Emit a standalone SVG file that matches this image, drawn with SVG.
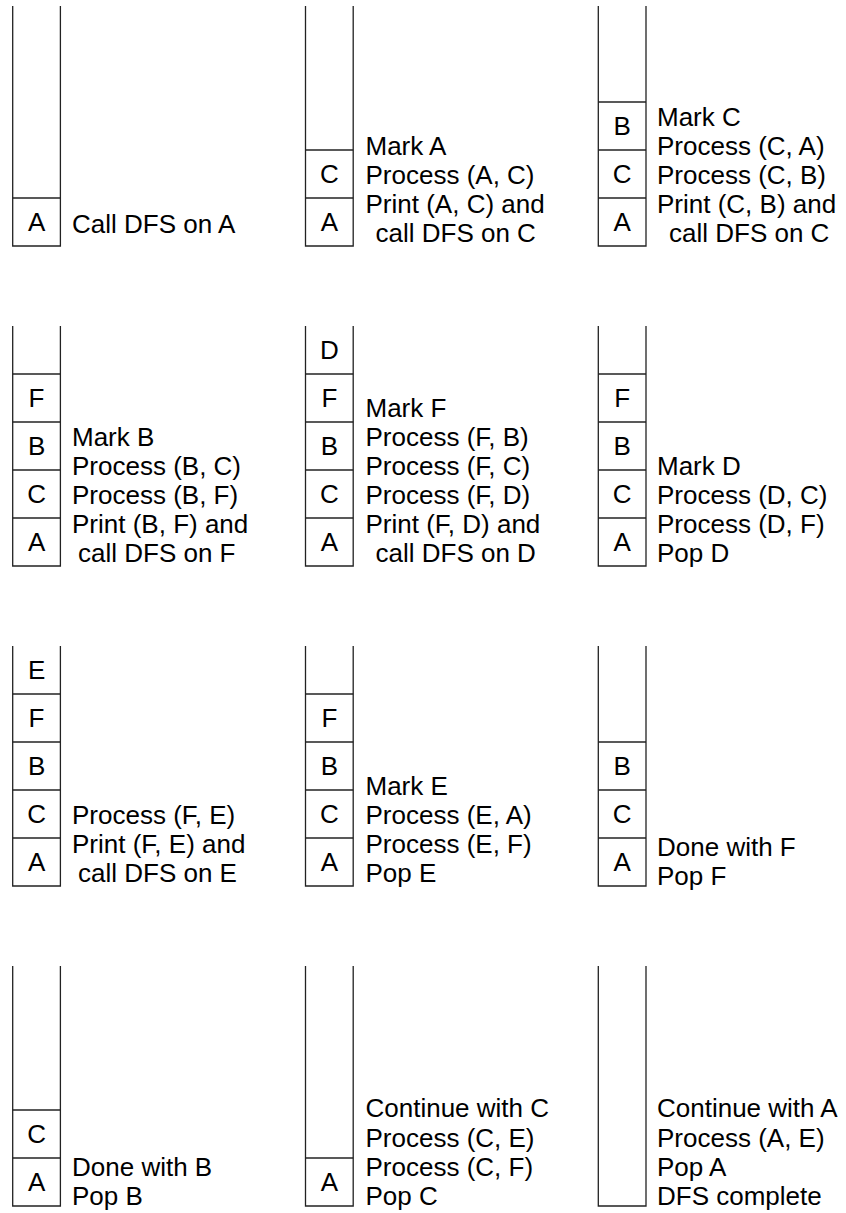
<svg xmlns="http://www.w3.org/2000/svg" width="846" height="1213" viewBox="0 0 846 1213">
<style>
.stk{fill:none;stroke:#222;stroke-width:1.3}
.div{stroke:#222;stroke-width:1.3}
.lbl{font-family:"Liberation Sans",Arial,sans-serif;font-size:26px;fill:#000;text-anchor:middle}
.txt{font-family:"Liberation Sans",Arial,sans-serif;font-size:26px;fill:#000}
</style>
<rect width="846" height="1213" fill="#fff"/>

<g id="step1">
<path class="stk" d="M12.7,6V246H60.4V6"/>
<line class="div" x1="12.7" y1="198" x2="60.4" y2="198"/>
<text class="lbl" x="36.55" y="231.3">A</text>
<text class="txt" x="72" y="233.3">Call DFS on A</text>
</g>

<g id="step2">
<path class="stk" d="M305.5,6V246H353.2V6"/>
<line class="div" x1="305.5" y1="198" x2="353.2" y2="198"/>
<line class="div" x1="305.5" y1="150" x2="353.2" y2="150"/>
<text class="lbl" x="329.35" y="231.3">A</text>
<text class="lbl" x="329.35" y="183.3">C</text>
<text class="txt" x="365.5" y="155">Mark A</text>
<text class="txt" x="365.5" y="184">Process (A, C)</text>
<text class="txt" x="365.5" y="213">Print (A, C) and</text>
<text class="txt" x="375.5" y="242">call DFS on C</text>
</g>

<g id="step3">
<path class="stk" d="M598.3,6V246H646V6"/>
<line class="div" x1="598.3" y1="198" x2="646" y2="198"/>
<line class="div" x1="598.3" y1="150" x2="646" y2="150"/>
<line class="div" x1="598.3" y1="102" x2="646" y2="102"/>
<text class="lbl" x="622.15" y="231.3">A</text>
<text class="lbl" x="622.15" y="183.3">C</text>
<text class="lbl" x="622.15" y="135.3">B</text>
<text class="txt" x="657" y="126">Mark C</text>
<text class="txt" x="657" y="155">Process (C, A)</text>
<text class="txt" x="657" y="184">Process (C, B)</text>
<text class="txt" x="657" y="213">Print (C, B) and</text>
<text class="txt" x="669" y="242">call DFS on C</text>
</g>

<g id="step4">
<path class="stk" d="M12.7,326V566H60.4V326"/>
<line class="div" x1="12.7" y1="518" x2="60.4" y2="518"/>
<line class="div" x1="12.7" y1="470" x2="60.4" y2="470"/>
<line class="div" x1="12.7" y1="422" x2="60.4" y2="422"/>
<line class="div" x1="12.7" y1="374" x2="60.4" y2="374"/>
<text class="lbl" x="36.55" y="551.3">A</text>
<text class="lbl" x="36.55" y="503.3">C</text>
<text class="lbl" x="36.55" y="455.3">B</text>
<text class="lbl" x="36.55" y="407.3">F</text>
<text class="txt" x="72" y="446">Mark B</text>
<text class="txt" x="72" y="475">Process (B, C)</text>
<text class="txt" x="72" y="504">Process (B, F)</text>
<text class="txt" x="72" y="533">Print (B, F) and</text>
<text class="txt" x="78" y="562">call DFS on F</text>
</g>

<g id="step5">
<path class="stk" d="M305.5,326V566H353.2V326"/>
<line class="div" x1="305.5" y1="518" x2="353.2" y2="518"/>
<line class="div" x1="305.5" y1="470" x2="353.2" y2="470"/>
<line class="div" x1="305.5" y1="422" x2="353.2" y2="422"/>
<line class="div" x1="305.5" y1="374" x2="353.2" y2="374"/>
<text class="lbl" x="329.35" y="551.3">A</text>
<text class="lbl" x="329.35" y="503.3">C</text>
<text class="lbl" x="329.35" y="455.3">B</text>
<text class="lbl" x="329.35" y="407.3">F</text>
<text class="lbl" x="329.35" y="359.3">D</text>
<text class="txt" x="365.5" y="416.5">Mark F</text>
<text class="txt" x="365.5" y="445.5">Process (F, B)</text>
<text class="txt" x="365.5" y="474.5">Process (F, C)</text>
<text class="txt" x="365.5" y="503.5">Process (F, D)</text>
<text class="txt" x="365.5" y="532.5">Print (F, D) and</text>
<text class="txt" x="375.5" y="561.5">call DFS on D</text>
</g>

<g id="step6">
<path class="stk" d="M598.3,326V566H646V326"/>
<line class="div" x1="598.3" y1="518" x2="646" y2="518"/>
<line class="div" x1="598.3" y1="470" x2="646" y2="470"/>
<line class="div" x1="598.3" y1="422" x2="646" y2="422"/>
<line class="div" x1="598.3" y1="374" x2="646" y2="374"/>
<text class="lbl" x="622.15" y="551.3">A</text>
<text class="lbl" x="622.15" y="503.3">C</text>
<text class="lbl" x="622.15" y="455.3">B</text>
<text class="lbl" x="622.15" y="407.3">F</text>
<text class="txt" x="657" y="475">Mark D</text>
<text class="txt" x="657" y="504">Process (D, C)</text>
<text class="txt" x="657" y="533">Process (D, F)</text>
<text class="txt" x="657" y="562">Pop D</text>
</g>

<g id="step7">
<path class="stk" d="M12.7,646V886H60.4V646"/>
<line class="div" x1="12.7" y1="838" x2="60.4" y2="838"/>
<line class="div" x1="12.7" y1="790" x2="60.4" y2="790"/>
<line class="div" x1="12.7" y1="742" x2="60.4" y2="742"/>
<line class="div" x1="12.7" y1="694" x2="60.4" y2="694"/>
<text class="lbl" x="36.55" y="871.3">A</text>
<text class="lbl" x="36.55" y="823.3">C</text>
<text class="lbl" x="36.55" y="775.3">B</text>
<text class="lbl" x="36.55" y="727.3">F</text>
<text class="lbl" x="36.55" y="679.3">E</text>
<text class="txt" x="72" y="824">Process (F, E)</text>
<text class="txt" x="72" y="853">Print (F, E) and</text>
<text class="txt" x="78" y="882">call DFS on E</text>
</g>

<g id="step8">
<path class="stk" d="M305.5,646V886H353.2V646"/>
<line class="div" x1="305.5" y1="838" x2="353.2" y2="838"/>
<line class="div" x1="305.5" y1="790" x2="353.2" y2="790"/>
<line class="div" x1="305.5" y1="742" x2="353.2" y2="742"/>
<line class="div" x1="305.5" y1="694" x2="353.2" y2="694"/>
<text class="lbl" x="329.35" y="871.3">A</text>
<text class="lbl" x="329.35" y="823.3">C</text>
<text class="lbl" x="329.35" y="775.3">B</text>
<text class="lbl" x="329.35" y="727.3">F</text>
<text class="txt" x="365.5" y="795">Mark E</text>
<text class="txt" x="365.5" y="824">Process (E, A)</text>
<text class="txt" x="365.5" y="853">Process (E, F)</text>
<text class="txt" x="365.5" y="882">Pop E</text>
</g>

<g id="step9">
<path class="stk" d="M598.3,646V886H646V646"/>
<line class="div" x1="598.3" y1="838" x2="646" y2="838"/>
<line class="div" x1="598.3" y1="790" x2="646" y2="790"/>
<line class="div" x1="598.3" y1="742" x2="646" y2="742"/>
<text class="lbl" x="622.15" y="871.3">A</text>
<text class="lbl" x="622.15" y="823.3">C</text>
<text class="lbl" x="622.15" y="775.3">B</text>
<text class="txt" x="657" y="855.8">Done with F</text>
<text class="txt" x="657" y="885.3">Pop F</text>
</g>

<g id="step10">
<path class="stk" d="M12.7,966V1206H60.4V966"/>
<line class="div" x1="12.7" y1="1158" x2="60.4" y2="1158"/>
<line class="div" x1="12.7" y1="1110" x2="60.4" y2="1110"/>
<text class="lbl" x="36.55" y="1191.3">A</text>
<text class="lbl" x="36.55" y="1143.3">C</text>
<text class="txt" x="72" y="1175.8">Done with B</text>
<text class="txt" x="72" y="1205.3">Pop B</text>
</g>

<g id="step11">
<path class="stk" d="M305.5,966V1206H353.2V966"/>
<line class="div" x1="305.5" y1="1158" x2="353.2" y2="1158"/>
<text class="lbl" x="329.35" y="1191.3">A</text>
<text class="txt" x="365.5" y="1117.1">Continue with C</text>
<text class="txt" x="365.5" y="1146.5">Process (C, E)</text>
<text class="txt" x="365.5" y="1175.9">Process (C, F)</text>
<text class="txt" x="365.5" y="1205.3">Pop C</text>
</g>

<g id="step12">
<path class="stk" d="M598.3,966V1206H646V966"/>
<text class="txt" x="657" y="1117.1">Continue with A</text>
<text class="txt" x="657" y="1146.5">Process (A, E)</text>
<text class="txt" x="657" y="1175.9">Pop A</text>
<text class="txt" x="657" y="1205.3">DFS complete</text>
</g>

<g id="connectors"></g>
</svg>
